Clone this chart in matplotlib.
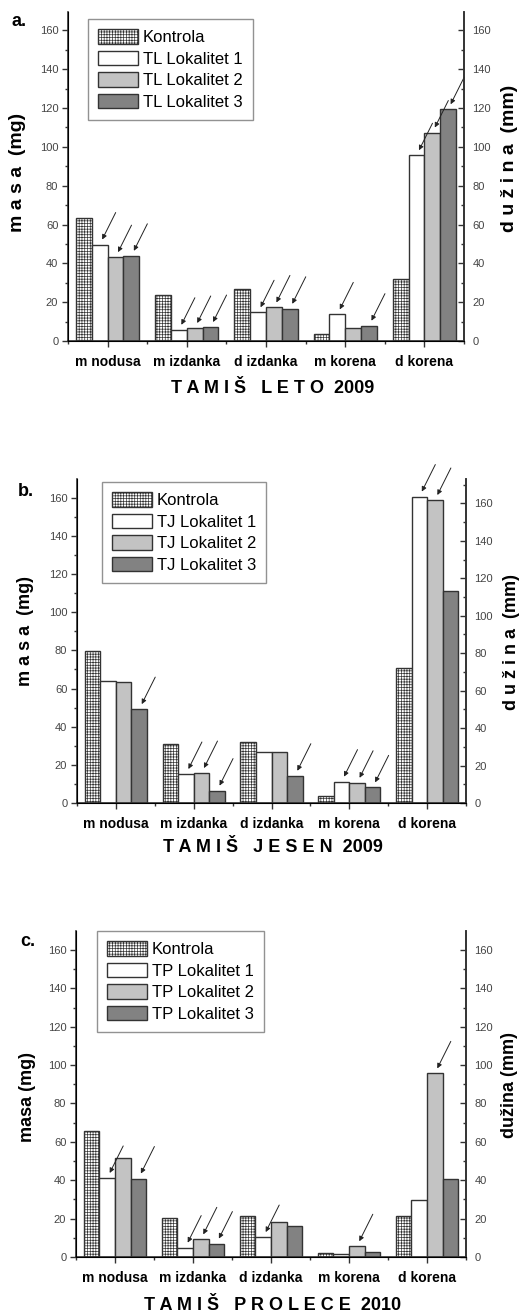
import matplotlib

matplotlib.use("Agg")
import matplotlib.pyplot as plt
import numpy as np
from matplotlib.ticker import MultipleLocator, FixedLocator

plt.rcParams['font.family'] = ['Liberation Sans', 'DejaVu Sans']
plt.rcParams['hatch.linewidth'] = 0.5

W, H = 528, 1315

categories = ['m nodusa', 'm izdanka', 'd izdanka', 'm korena', 'd korena']

# panel a - TAMIŠ LETO 2009
labels_a = ['Kontrola', 'TL Lokalitet 1', 'TL Lokalitet 2', 'TL Lokalitet 3']
kontrola_a = [63.6, 23.5, 26.6, 3.4, 31.7]
lok1_a = [49.7, 5.8, 14.8, 13.7, 95.7]
lok2_a = [43.2, 6.7, 17.3, 6.7, 107.4]
lok3_a = [43.9, 7.2, 16.6, 7.9, 119.4]
# (category, series) pairs marked with an arrow
arrows_a = [(0, 1), (0, 2), (0, 3), (1, 1), (1, 2), (1, 3), (2, 1), (2, 2), (2, 3),
            (3, 1), (3, 3), (4, 1), (4, 2), (4, 3)]

# panel b - TAMIŠ JESEN 2009
labels_b = ['Kontrola', 'TJ Lokalitet 1', 'TJ Lokalitet 2', 'TJ Lokalitet 3']
kontrola_b = [79.8, 31.1, 31.8, 3.8, 70.9]
lok1_b = [63.7, 15.2, 26.5, 11.2, 160.6]
lok2_b = [63.2, 15.7, 26.9, 10.6, 158.8]
lok3_b = [49.2, 6.5, 14.3, 8.2, 111.2]
arrows_b = [(0, 3), (1, 1), (1, 2), (1, 3), (2, 3), (3, 1), (3, 2), (3, 3), (4, 1), (4, 2)]

# panel c - TAMIŠ PROLECE 2010
labels_c = ['Kontrola', 'TP Lokalitet 1', 'TP Lokalitet 2', 'TP Lokalitet 3']
kontrola_c = [65.7, 20.3, 21.4, 2.3, 21.2]
lok1_c = [41.2, 4.9, 10.4, 1.6, 29.9]
lok2_c = [51.7, 9.2, 18.3, 5.6, 95.7]
lok3_c = [40.9, 7.0, 16.0, 2.6, 40.5]
arrows_c = [(0, 1), (0, 3), (1, 1), (1, 2), (1, 3), (2, 1), (3, 2), (4, 2)]

yticks = [0, 20, 40, 60, 80, 100, 120, 140, 160]

face = ['white', 'white', '#c3c3c3', '#828282']
hatches = ['++++++', None, None, None]
edge = '#333333'
tick_col = '#444444'


def rect(left, top, right, bottom):
    return [left / W, 1 - bottom / H, (right - left) / W, (bottom - top) / H]


def draw_panel(fig, box, series, labels, arrows, ytop_left, ytop_right, leg_xy):
    ax = fig.add_axes(box)
    x = np.arange(len(categories))
    width = 0.2
    offsets = [-0.3, -0.1, 0.1, 0.3]
    for i, vals in enumerate(series):
        ax.bar(x + offsets[i], vals, width, color=face[i], edgecolor=edge,
               linewidth=1.0, hatch=hatches[i], label=labels[i], zorder=2)
    for c, s in arrows:
        ax.annotate('', xy=(x[c] + offsets[s], series[s][c]), xycoords='data',
                    xytext=(16, 32), textcoords='offset pixels',
                    arrowprops=dict(arrowstyle='-|>', color='#222222', lw=0.7,
                                    mutation_scale=7, shrinkA=0, shrinkB=4))
    ax.set_xlim(-0.5, len(categories) - 0.5)
    ax.set_ylim(0, ytop_left)
    ax.spines['top'].set_visible(False)
    for sp in ['left', 'right', 'bottom']:
        ax.spines[sp].set_color(edge)
        ax.spines[sp].set_linewidth(1.2)
    ax.yaxis.set_major_locator(FixedLocator(yticks))
    ax.yaxis.set_minor_locator(MultipleLocator(10))
    ax.tick_params(axis='y', which='major', direction='out', length=4, width=1,
                   color=edge, labelsize=8, labelcolor=tick_col, pad=3)
    ax.tick_params(axis='y', which='minor', direction='out', length=2.5, width=1, color=edge)
    ax.set_xticks(x)
    ax.set_xticklabels(categories, fontsize=10, fontweight='bold')
    ax.xaxis.set_minor_locator(FixedLocator(np.arange(-0.5, len(categories), 1.0)))
    ax.tick_params(axis='x', which='major', direction='out', length=4, width=1,
                   color=edge, pad=6)
    ax.tick_params(axis='x', which='minor', direction='out', length=2, width=1, color=edge)

    ax2 = ax.twinx()
    ax2.set_ylim(0, ytop_right)
    ax2.spines['top'].set_visible(False)
    ax2.spines['right'].set_color(edge)
    ax2.spines['right'].set_linewidth(1.2)
    ax2.yaxis.set_major_locator(FixedLocator(yticks))
    ax2.yaxis.set_minor_locator(MultipleLocator(10))
    ax2.tick_params(axis='y', which='major', direction='in', length=4, width=1,
                    color=edge, labelsize=8, labelcolor=tick_col, pad=6)
    ax2.tick_params(axis='y', which='minor', direction='in', length=2.5, width=1, color=edge)

    leg = ax.legend(loc='upper left', bbox_to_anchor=(leg_xy[0] / W, 1 - leg_xy[1] / H),
                    bbox_transform=fig.transFigure, fontsize=12, frameon=True,
                    fancybox=False, edgecolor='#777777', handlelength=2.4,
                    handleheight=1.0, handletextpad=0.3, labelspacing=0.32,
                    borderpad=0.6, borderaxespad=0)
    leg.get_frame().set_linewidth(1.0)
    return ax


fig = plt.figure(figsize=(W / 100, H / 100), dpi=100)

draw_panel(fig, rect(68, 12, 464, 341), [kontrola_a, lok1_a, lok2_a, lok3_a],
           labels_a, arrows_a, 169.5, 169.5, (88, 19))
draw_panel(fig, rect(77, 479, 466, 803), [kontrola_b, lok1_b, lok2_b, lok3_b],
           labels_b, arrows_b, 169.8, 173.0, (102, 482))
draw_panel(fig, rect(76, 931, 466, 1257), [kontrola_c, lok1_c, lok2_c, lok3_c],
           labels_c, arrows_c, 169.9, 169.9, (97, 931))


def ftext(px, py, s, **kw):
    fig.text(px / W, 1 - py / H, s, ha='center', va='center', **kw)


# panel letters
ftext(19, 21, 'a.', fontsize=13, fontweight='bold')
ftext(26, 492, 'b.', fontsize=13, fontweight='bold')
ftext(28, 942, 'c.', fontsize=13, fontweight='bold')

# axis titles
ftext(18, 172, 'm a s a  (mg)', fontsize=14, fontweight='bold', rotation=90)
ftext(510, 158, 'd u ž i n a  (mm)', fontsize=14, fontweight='bold', rotation=90)
ftext(25, 631, 'm a s a  (mg)', fontsize=13, fontweight='bold', rotation=90)
ftext(512, 642, 'd u ž i n a  (mm)', fontsize=13, fontweight='bold', rotation=90)
ftext(28, 1097, 'masa (mg)', fontsize=13, fontweight='bold', rotation=90)
ftext(510, 1085, 'dužina (mm)', fontsize=13, fontweight='bold', rotation=90)

# panel titles
ftext(273, 389, 'T A M I Š   L E T O  2009', fontsize=13, fontweight='bold')
ftext(273, 848, 'T A M I Š   J E S E N  2009', fontsize=13, fontweight='bold')
ftext(273, 1305, 'T A M I Š   P R O L E C E  2010', fontsize=13, fontweight='bold')

fig.savefig('out.png', dpi=100)
